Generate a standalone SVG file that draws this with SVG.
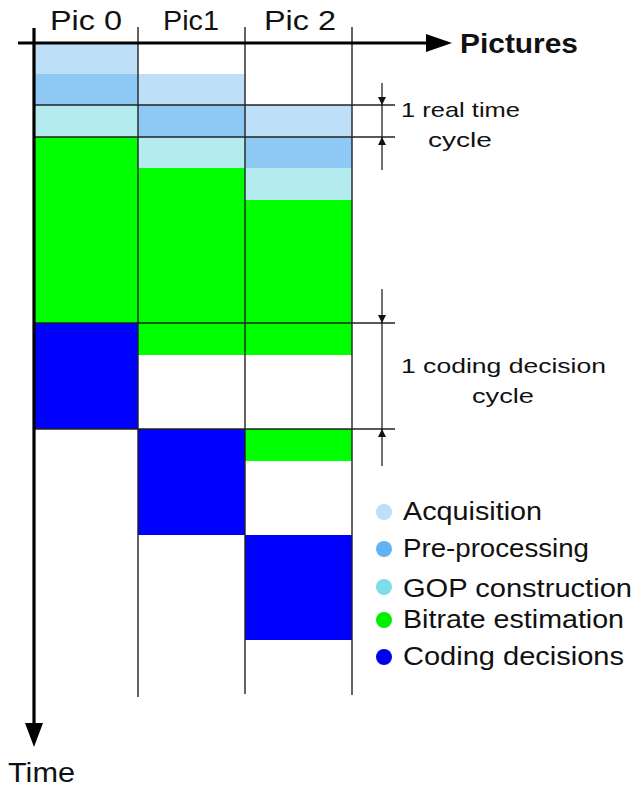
<svg xmlns="http://www.w3.org/2000/svg" width="632" height="787" viewBox="0 0 632 787">
<defs>
<style>
.t{font-family:"Liberation Sans",Arial,sans-serif;fill:#111}
.acq{fill:#BDDFF7}.pre{fill:#8EC8F5}.gop{fill:#B3EBEF}.bit{fill:#00FF00}.cod{fill:#0000FF}
.grid{stroke:#222;stroke-width:1.4;fill:none}
.dim{stroke:#111;stroke-width:1.2;fill:none}
</style>
<marker id="dimArrow" markerWidth="8" markerHeight="10" refX="8" refY="4" orient="auto" markerUnits="userSpaceOnUse">
<path d="M0,0 L8,4 L0,8 z" fill="#111"/>
</marker>
</defs>
<rect width="632" height="787" fill="#fff"/>

<g id="pic0">
<rect class="acq" x="34" y="43" width="104" height="31"/>
<rect class="pre" x="34" y="74" width="104" height="31"/>
<rect class="gop" x="34" y="105" width="104" height="32"/>
<rect class="bit" x="34" y="137" width="104" height="186"/>
<rect class="cod" x="34" y="323" width="104" height="106"/>
</g>
<g id="pic1">
<rect class="acq" x="138" y="74" width="107" height="31"/>
<rect class="pre" x="138" y="105" width="107" height="32"/>
<rect class="gop" x="138" y="137" width="107" height="31"/>
<rect class="bit" x="138" y="168" width="107" height="187"/>
<rect class="cod" x="138" y="429" width="107" height="106"/>
</g>
<g id="pic2">
<rect class="acq" x="245" y="105" width="107" height="32"/>
<rect class="pre" x="245" y="137" width="107" height="31"/>
<rect class="gop" x="245" y="168" width="107" height="32"/>
<rect class="bit" x="245" y="200" width="107" height="155"/>
<rect class="bit" x="245" y="429" width="107" height="32"/>
<rect class="cod" x="245" y="535" width="107" height="105"/>
</g>

<g id="grid">
<line class="grid" x1="138" y1="27" x2="138" y2="697"/>
<line class="grid" x1="245" y1="27" x2="245" y2="694"/>
<line class="grid" x1="352" y1="27" x2="352" y2="695"/>
<line class="grid" x1="34" y1="105" x2="395" y2="105"/>
<line class="grid" x1="34" y1="137" x2="395" y2="137"/>
<line class="grid" x1="34" y1="323" x2="395" y2="323"/>
<line class="grid" x1="34" y1="429" x2="395" y2="429"/>
</g>

<g id="connectors">
<line x1="18" y1="43" x2="428" y2="43" stroke="#000" stroke-width="3.2"/>
<path d="M426,34 L452,43 L426,52 z" fill="#000"/>
<line x1="34" y1="28" x2="34" y2="726" stroke="#000" stroke-width="3.2"/>
<path d="M25,723 L34,747 L43,723 z" fill="#000"/>
<line class="dim" x1="382" y1="83" x2="382" y2="105" marker-end="url(#dimArrow)"/>
<line class="dim" x1="382" y1="170" x2="382" y2="137" marker-end="url(#dimArrow)"/>
<line class="dim" x1="382" y1="105" x2="382" y2="137"/>
<line class="dim" x1="382" y1="289" x2="382" y2="323" marker-end="url(#dimArrow)"/>
<line class="dim" x1="382" y1="466" x2="382" y2="429" marker-end="url(#dimArrow)"/>
<line class="dim" x1="382" y1="323" x2="382" y2="429"/>
</g>

<g id="labels">
<text class="t" x="86" y="30" font-size="27" text-anchor="middle" textLength="72" lengthAdjust="spacingAndGlyphs">Pic 0</text>
<text class="t" x="191" y="30" font-size="27" text-anchor="middle" textLength="56" lengthAdjust="spacingAndGlyphs">Pic1</text>
<text class="t" x="300" y="30" font-size="27" text-anchor="middle" textLength="72" lengthAdjust="spacingAndGlyphs">Pic 2</text>
<text class="t" x="460" y="53" font-size="27" font-weight="bold" textLength="118" lengthAdjust="spacingAndGlyphs">Pictures</text>
<text class="t" x="8" y="782" font-size="27" textLength="67" lengthAdjust="spacingAndGlyphs">Time</text>
<text class="t" x="401" y="117" font-size="21" textLength="119" lengthAdjust="spacingAndGlyphs">1 real time</text>
<text class="t" x="428" y="147" font-size="21" textLength="64" lengthAdjust="spacingAndGlyphs">cycle</text>
<text class="t" x="401" y="373" font-size="21" textLength="205" lengthAdjust="spacingAndGlyphs">1 coding decision</text>
<text class="t" x="472" y="403" font-size="21" textLength="62" lengthAdjust="spacingAndGlyphs">cycle</text>
</g>

<g id="legend">
<circle cx="384" cy="512" r="8" fill="#BDDFF7"/>
<circle cx="384" cy="549" r="8" fill="#63B2F2"/>
<circle cx="384" cy="587" r="8" fill="#7EDDE6"/>
<circle cx="384" cy="620" r="8" fill="#00EE00"/>
<circle cx="384" cy="657" r="8" fill="#0000EE"/>
<text class="t" x="403" y="520" font-size="25" textLength="139" lengthAdjust="spacingAndGlyphs">Acquisition</text>
<text class="t" x="403" y="557" font-size="25" textLength="186" lengthAdjust="spacingAndGlyphs">Pre-processing</text>
<text class="t" x="403" y="597" font-size="25" textLength="229" lengthAdjust="spacingAndGlyphs">GOP construction</text>
<text class="t" x="403" y="628" font-size="25" textLength="221" lengthAdjust="spacingAndGlyphs">Bitrate estimation</text>
<text class="t" x="403" y="665" font-size="25" textLength="221" lengthAdjust="spacingAndGlyphs">Coding decisions</text>
</g>
</svg>
